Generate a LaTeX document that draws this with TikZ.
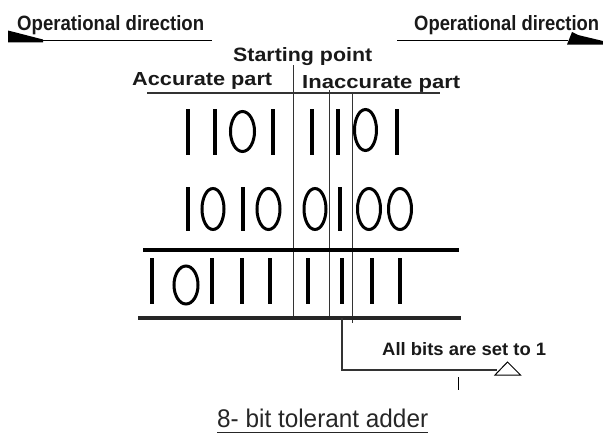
\documentclass[tikz,border=0pt]{standalone}
\usepackage{fontspec}
\setmainfont{Liberation Sans}
\usepackage{graphicx}
\begin{document}
\begin{tikzpicture}[x=1pt,y=-1pt,
  bitone/.style={line width=4pt},
  bitzero/.style={line width=3pt},
  gridline/.style={line width=1pt, draw=black!80},
  thickbar/.style={line width=4pt},
  dirline/.style={line width=1.3pt},
  lbl/.style={inner sep=0pt, anchor=base west, font=\bfseries, text=black!90},
]
\useasboundingbox (0,0) rectangle (603,434);
% labels
\node[lbl] (opl) at (17,30) {\resizebox{187pt}{15pt}{Operational direction}};
\node[lbl] (opr) at (414,30) {\resizebox{185pt}{15pt}{Operational direction}};
\node[lbl] (start) at (233,61) {\resizebox{139pt}{14pt}{Starting point}};
\node[lbl] (acc) at (132,85.5) {\resizebox{140pt}{13pt}{Accurate part}};
\node[lbl] (inacc) at (302,88) {\resizebox{158pt}{13pt}{Inaccurate part}};
\node[lbl] (allbits) at (382,355.5) {\resizebox{164pt}{13pt}{All bits are set to 1}};
\node[inner sep=0pt, anchor=base west, text=black!85] (cap) at (217,427) {\resizebox{211pt}{18.5pt}{8- bit tolerant adder}};
\draw[line width=1pt, black!85] (217,432.5) -- (428,432.5);
% direction arrows
\coordinate (la) at (43,40.7);
\coordinate (lb) at (212,40.7);
\draw[dirline] (la) -- (lb);
\fill (8,30.5) -- (12,31.5) -- (43,39.5) -- (43,42.3) -- (8,42.3) -- cycle;
\coordinate (ra) at (397,40.7);
\coordinate (rb) at (568,40.7);
\draw[dirline] (ra) -- (rb);
\fill (567,44.5) -- (572,32) -- (578,35) -- (603,41) -- (603,44.5) -- cycle;
% header line and separators
\draw[line width=1.2pt, black!80] (147,93) -- (440,93);
\draw[gridline] (293,65) -- (293,318);
\draw[gridline] (329,90) -- (329,318);
\draw[gridline] (352.5,93) -- (352.5,323);
% bars
\draw[thickbar] (143,250) -- (459,250);
\draw[thickbar, line width=4.5pt, black!85] (138,318) -- (461,318);
% row 1: 1101 1101
\foreach \x in {188,215,273,312,338,397} \draw[bitone] (\x,109) -- (\x,155);
\draw[bitzero] (242.5,131.5) ellipse [x radius=12pt, y radius=20pt];
\draw[bitzero] (365.5,130) ellipse [x radius=11pt, y radius=20.5pt];
% row 2: 1010 0100
\foreach \x in {188,243,340} \draw[bitone] (\x,187) -- (\x,231);
\foreach \x/\r in {213/11,268.5/11.5,315/11,369/11.5,400/11.5}
  \draw[bitzero] (\x,209) ellipse [x radius=\r pt, y radius=20.5pt];
% row 3: 10111 1111
\foreach \x in {152,212,242,270,308,342,372,400} \draw[bitone] (\x,258) -- (\x,304);
\draw[bitzero] (186,285) ellipse [x radius=12pt, y radius=19pt];
% bracket to "all bits set"
\coordinate (bt) at (342,318);
\coordinate (bc) at (342,370);
\coordinate (tri) at (497,370);
\draw[line width=1.2pt, black!80] (bt) -- (bc) -- (tri);
\draw[line width=1pt, fill=white] (495,375) -- (507.5,362) -- (520.5,375) -- cycle;
\draw[line width=1pt] (458,377) -- (458,390);
\end{tikzpicture}
\end{document}
